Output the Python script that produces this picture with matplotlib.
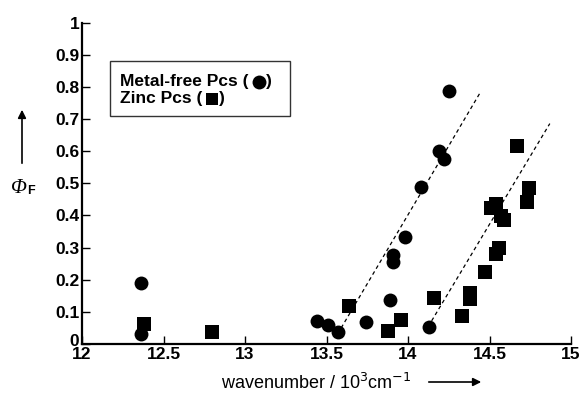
import matplotlib
matplotlib.use('Agg')
import matplotlib.pyplot as plt
from matplotlib.patches import Rectangle
from matplotlib.lines import Line2D
from matplotlib.ticker import FixedLocator, FuncFormatter
from matplotlib.transforms import ScaledTranslation

plt.rcParams['font.family'] = ['Liberation Sans', 'DejaVu Sans']

# metal-free phthalocyanines (circles)
metal_free_x = [12.36, 12.36, 13.44, 13.51, 13.57, 13.74, 13.89, 13.91, 13.91,
                13.98, 14.08, 14.13, 14.19, 14.22, 14.25]
metal_free_y = [0.19, 0.031, 0.072, 0.060, 0.037, 0.068, 0.138, 0.277, 0.256,
                0.334, 0.489, 0.052, 0.600, 0.576, 0.786]

# zinc phthalocyanines (squares)
zinc_x = [12.38, 12.80, 13.64, 13.88, 13.96, 14.16, 14.33, 14.38, 14.38, 14.47,
          14.54, 14.56, 14.51, 14.54, 14.57, 14.59, 14.67, 14.73, 14.74]
zinc_y = [0.062, 0.036, 0.118, 0.040, 0.075, 0.144, 0.088, 0.139, 0.160, 0.224,
          0.279, 0.300, 0.423, 0.435, 0.398, 0.386, 0.616, 0.442, 0.487]

# dashed trend lines (start/end)
trend_mf_x = [13.59, 14.44]
trend_mf_y = [0.05, 0.78]
trend_zn_x = [14.145, 14.87]
trend_zn_y = [0.072, 0.686]

x_ticks = [12, 12.5, 13, 13.5, 14, 14.5, 15]
y_ticks = [0, 0.1, 0.2, 0.3, 0.4, 0.5, 0.6, 0.7, 0.8, 0.9, 1]

W, H = 581, 394
fig = plt.figure(figsize=(W / 100, H / 100), dpi=100)
ax = fig.add_axes([82 / W, 1 - 344 / H, (571 - 82) / W, (344 - 22.7) / H])

ax.plot(trend_mf_x, trend_mf_y, color='black', lw=0.9, ls=(0, (3, 2.5)))
ax.plot(trend_zn_x, trend_zn_y, color='black', lw=0.9, ls=(0, (3, 2.5)))
ax.plot(metal_free_x, metal_free_y, 'o', color='black', ms=10, mew=0, clip_on=False)
ax.plot(zinc_x, zinc_y, 's', color='black', ms=9.5, mew=0, clip_on=False)

ax.set_xlim(12, 15)
ax.set_ylim(0, 1)
for s in ['top', 'right']:
    ax.spines[s].set_visible(False)
for s in ['left', 'bottom']:
    ax.spines[s].set_linewidth(1.6)
ax.xaxis.set_major_locator(FixedLocator(x_ticks))
ax.yaxis.set_major_locator(FixedLocator(y_ticks))
fmt = FuncFormatter(lambda v, p: f'{v:g}')
ax.xaxis.set_major_formatter(fmt)
ax.yaxis.set_major_formatter(fmt)
ax.tick_params(direction='in', length=6, width=1, labelsize=12.5, pad=2)
for lab in ax.get_xticklabels() + ax.get_yticklabels():
    lab.set_fontweight('bold')
# lift the "0" a little so it sits just above "12"
zero = ax.yaxis.get_major_ticks()[0].label1
zero.set_transform(zero.get_transform() + ScaledTranslation(0, 3 / 72, fig.dpi_scale_trans))

def fx(px):
    return px / W

def fy(py):
    return 1 - py / H

# x label with arrow
fig.text(fx(316), fy(383), 'wavenumber / 10$^3$cm$^{-1}$', ha='center', va='center',
         fontsize=13)
ax.annotate('', xy=(fx(484), fy(382)), xytext=(fx(426), fy(382)),
            xycoords='figure fraction', textcoords='figure fraction',
            arrowprops=dict(arrowstyle='-|>', color='black', lw=1.2, mutation_scale=12))

# y label with arrow
fig.text(fx(19), fy(188.5), '\u03A6', ha='center', va='center', fontsize=15,
         family='Liberation Serif', style='italic')
fig.text(fx(31), fy(191.5), 'F', ha='center', va='center', fontsize=9, fontweight='bold')
ax.annotate('', xy=(fx(22), fy(107)), xytext=(fx(22), fy(166)),
            xycoords='figure fraction', textcoords='figure fraction',
            arrowprops=dict(arrowstyle='-|>', color='black', lw=1.2, mutation_scale=12))

# legend box
fig.patches.append(Rectangle((fx(110), fy(116)), 180 / W, 55 / H,
                             transform=fig.transFigure, fill=False,
                             edgecolor='#333333', lw=1))
t1 = fig.text(fx(120), fy(81.5), 'Metal-free Pcs (', ha='left', va='center',
              fontsize=12.5, fontweight='bold')
t2 = fig.text(fx(120), fy(99), 'Zinc Pcs (', ha='left', va='center',
              fontsize=12.5, fontweight='bold')
fig.canvas.draw()
r = fig.canvas.get_renderer()
for t, y, mk, ms in [(t1, 81.5, 'o', 10), (t2, 99, 's', 8.5)]:
    end = t.get_window_extent(r).x1
    cx = end + 10
    fig.lines.append(Line2D([cx / W], [fy(y)], marker=mk, color='black', ms=ms, mew=0,
                            transform=fig.transFigure))
    fig.text((cx + 7) / W, fy(y), ')', ha='left', va='center', fontsize=12.5,
             fontweight='bold')

fig.savefig('out.png', dpi=100)
